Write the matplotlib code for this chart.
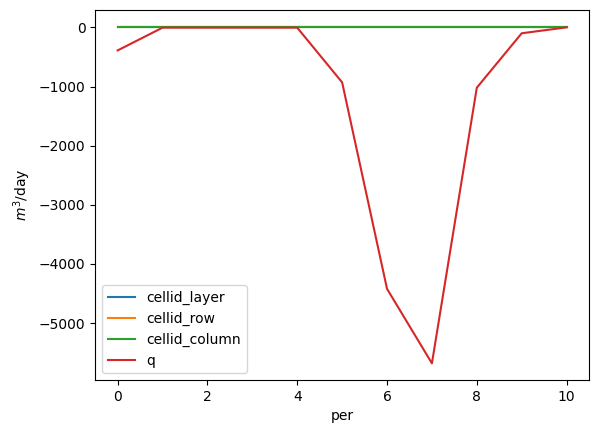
import matplotlib
matplotlib.use("Agg")
import matplotlib.pyplot as plt

per = list(range(11))
cellid_layer = [0]*11
cellid_row = [5]*11
cellid_column = [10]*11
q = [-390, -5, -5, -5, -5, -930, -4420, -5680, -1020, -100, 0]

fig, ax = plt.subplots(figsize=(5.95, 4.32), dpi=100)
ax.plot(per, cellid_layer, label="cellid_layer")
ax.plot(per, cellid_row, label="cellid_row")
ax.plot(per, cellid_column, label="cellid_column")
ax.plot(per, q, label="q")
ax.set_xlabel("per")
ax.set_ylabel("$m^3$/day")
ax.legend(loc="lower left")
fig.subplots_adjust(left=0.16, right=0.99, bottom=0.12, top=0.977)
fig.savefig("out.png")
